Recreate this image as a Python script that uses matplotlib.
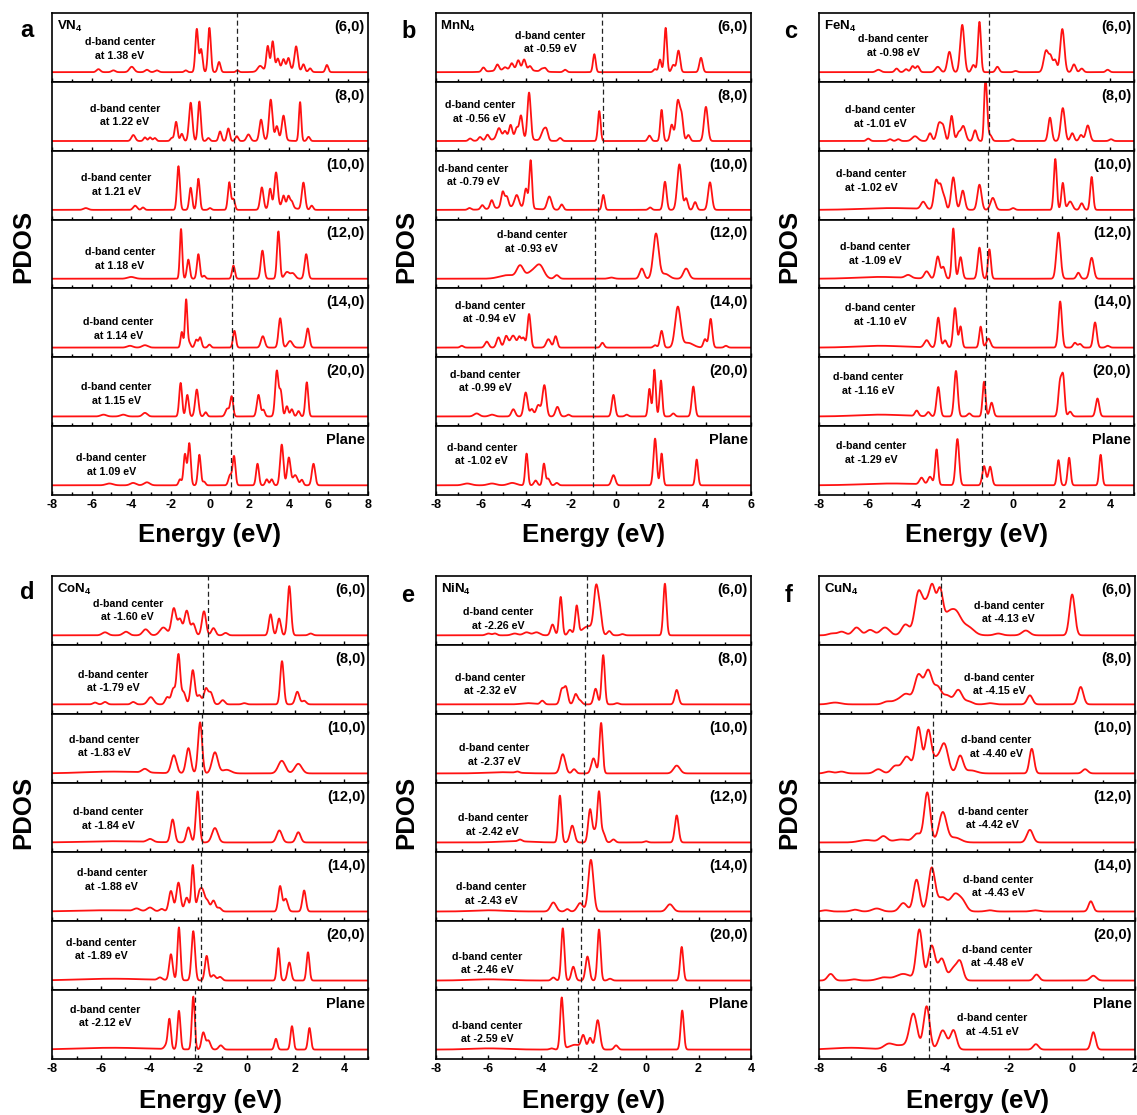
import numpy as np
import matplotlib
matplotlib.use("Agg")
import matplotlib.pyplot as plt
from matplotlib.ticker import MultipleLocator

plt.rcParams['font.family'] = ['Liberation Sans', 'DejaVu Sans']
plt.rcParams['font.weight'] = 'bold'
plt.rcParams['axes.unicode_minus'] = False
plt.rcParams['mathtext.fontset'] = 'custom'
plt.rcParams['mathtext.rm'] = 'Liberation Sans:bold'
plt.rcParams['mathtext.bf'] = 'Liberation Sans:bold'
plt.rcParams['mathtext.it'] = 'Liberation Sans:bold:italic'
plt.rcParams['mathtext.default'] = 'rm'

# ---- data -------------------------------------------------------------
rows = ['(6,0)', '(8,0)', '(10,0)', '(12,0)', '(14,0)', '(20,0)', 'Plane']
panel_letters = ['a', 'b', 'c', 'd', 'e', 'f']
systems = ['VN$_4$', 'MnN$_4$', 'FeN$_4$', 'CoN$_4$', 'NiN$_4$', 'CuN$_4$']
xlims = [(-8, 8), (-8, 6), (-8, 5), (-8, 5), (-8, 4), (-8, 2)]

# d-band centers (eV), one per row
dband_V = [1.38, 1.22, 1.21, 1.18, 1.14, 1.15, 1.09]
dband_Mn = [-0.59, -0.56, -0.79, -0.93, -0.94, -0.99, -1.02]
dband_Fe = [-0.98, -1.01, -1.02, -1.09, -1.10, -1.16, -1.29]
dband_Co = [-1.60, -1.79, -1.83, -1.84, -1.88, -1.89, -2.12]
dband_Ni = [-2.26, -2.32, -2.37, -2.42, -2.43, -2.46, -2.59]
dband_Cu = [-4.13, -4.15, -4.40, -4.42, -4.43, -4.48, -4.51]

# PDOS peaks: (energy eV, height, width eV)
peaks_V = [
    [(-5.66, .05, .08), (-4.9, .03, .08), (-3.97, .09, .1), (-3.2, .04, .08), (-2.7, .03, .08), (-1.23, .03),
     (-0.67, .72), (-0.45, .38), (-0.03, .74), (0.46, .17), (1.39, .03), (2.54, .09, .1), (2.93, .4),
     (3.18, .46), (3.44, .16), (3.73, .15), (3.98, .18), (4.37, .4, .07), (4.74, .12), (5.08, .06),
     (5.93, .12), (3.6, .07, .5)],
    [(-3.89, .1, .08), (-3.3, .06), (-3.04, .06), (-2.8, .05), (-1.94, .05), (-1.72, .32), (-1.43, .12),
     (-0.98, .64, .07), (-0.54, .66), (-0.08, .05), (0.51, .16), (0.93, .21), (1.36, .08), (1.95, .11, .08),
     (2.59, .35, .07), (3.08, .65, .07), (3.39, .2), (3.73, .4, .07), (4.57, .65, .05), (5.0, .07),
     (3.3, .05, .3)],
    [(-6.3, .03, .1), (-3.8, .07, .08), (-3.4, .04), (-1.6, .73), (-0.98, .37), (-0.59, .52), (0.0, .03),
     (0.98, .46), (1.19, .18), (2.63, .37, .07), (3.05, .33), (3.35, .58, .07), (3.73, .18), (3.98, .18),
     (4.15, .1), (4.74, .45, .07), (5.16, .07), (3.7, .06, .4)],
    [(-4.0, .03, .15), (-1.47, .83, .05), (-1.1, .32), (-0.59, .41), (-0.3, .05), (1.19, .22),
     (2.66, .47, .07), (3.47, .79, .06), (3.9, .11, .1), (4.2, .09, .1), (4.88, .41, .07)],
    [(-4.06, .03, .12), (-3.3, .04, .12), (-1.43, .26, .05), (-1.21, .8, .05), (-1.05, .08), (-0.7, .13),
     (-0.5, .17), (-0.03, .05), (1.24, .28), (2.68, .19, .08), (3.56, .49, .07), (4.06, .11, .1),
     (4.96, .32, .07)],
    [(-5.4, .03, .12), (-4.4, .03, .12), (-3.3, .06, .1), (-1.49, .56), (-1.15, .36), (-0.67, .45, .07),
     (-0.22, .07), (0.88, .13, .08), (1.1, .33), (2.46, .36, .07), (2.71, .11), (3.39, .76, .07),
     (3.59, .4), (3.9, .17), (4.15, .12), (4.49, .09), (4.91, .57, .06)],
    [(-5.1, .03, .15), (-3.9, .04, .12), (-3.2, .05, .12), (-1.52, .1), (-1.27, .52), (-1.05, .7),
     (-0.54, .51), (-0.3, .06), (1.02, .17, .07), (1.22, .48), (2.41, .36), (2.88, .1), (3.13, .1),
     (3.64, .68, .07), (4.0, .46, .07), (4.32, .17, .1), (4.66, .09), (5.25, .36, .07)],
]

peaks_Mn = [
    [(-4.5, .05, .6), (-5.88, .07), (-5.26, .1), (-4.92, .04), (-4.62, .1), (-4.33, .15), (-4.07, .17),
     (-3.81, .07), (-3.29, .04), (-3.14, .06), (-2.25, .04), (-0.95, .3, .05), (1.75, .05), (1.97, .21, .05),
     (2.22, .74, .05), (2.56, .12), (2.79, .36), (3.79, .24)],
    [(-6.47, .04), (-6.03, .06), (-5.7, .09), (-5.19, .18, .08), (-4.92, .12), (-4.67, .22), (-4.4, .17),
     (-4.21, .38), (-3.85, .78, .06), (-3.21, .17, .08), (-3.07, .14), (-2.47, .05), (-0.73, .5, .05),
     (1.5, .09), (2.04, .52, .05), (2.49, .27), (2.76, .66, .07), (2.93, .4), (3.23, .1),
     (4.01, .57, .07), (-4.6, .05, .6)],
    [(-6.5, .03), (-5.93, .07), (-5.51, .14), (-5.02, .26), (-4.84, .17), (-4.4, .2, .08), (-3.99, .32),
     (-3.78, .8, .05), (-2.95, .22, .08), (-2.4, .09), (-0.55, .25, .05), (1.53, .04), (2.19, .47, .06),
     (2.83, .76, .08), (3.13, .19), (3.53, .13), (4.19, .46, .07), (-4.6, .05, .6)],
    [(-4.8, .06, .3), (-4.25, .2, .12), (-3.7, .12, .2), (-3.36, .19, .15), (-2.62, .06, .08), (-0.2, .02, .1),
     (1.16, .17, .08), (1.79, .75, .1), (2.2, .08, .15), (3.13, .17, .1)],
    [(-6.84, .03), (-5.73, .1, .07), (-5.21, .17, .07), (-4.87, .19, .07), (-4.56, .2, .1), (-4.28, .17),
     (-4.1, .16), (-3.85, .56, .06), (-2.99, .14, .08), (-2.67, .19, .06), (-0.59, .08), (1.75, .04),
     (2.04, .28, .06), (2.76, .67, .1), (3.2, .08, .2), (3.97, .14), (4.22, .48, .06), (4.9, .03)],
    [(-6.18, .05, .1), (-5.5, .03, .1), (-4.55, .12, .07), (-4.0, .4, .07), (-3.73, .12), (-3.44, .19, .08),
     (-3.17, .52, .07), (-2.59, .16, .07), (-2.1, .03), (-0.1, .36, .06), (0.49, .03), (1.5, .46, .05),
     (1.72, .78, .05), (2.01, .6, .05), (2.56, .05), (3.45, .5, .06)],
    [(-6.6, .03, .15), (-5.5, .03, .15), (-4.6, .04, .15), (-3.96, .53, .05), (-3.56, .08), (-3.19, .36, .05),
     (-3.0, .11), (-2.62, .04), (-0.1, .17, .07), (1.75, .78, .06), (2.04, .53, .05), (3.6, .43, .05)],
]

peaks_Fe = [
    [(-5.56, .04, .08), (-4.81, .06), (-4.42, .05), (-4.15, .1), (-3.94, .1), (-3.11, .09, .08),
     (-2.63, .34, .07), (-2.1, .79, .07), (-1.64, .12), (-1.39, .84, .05), (-0.65, .09), (0.1, .02),
     (1.36, .36, .08), (1.55, .23), (1.73, .2), (2.03, .72, .07), (2.51, .13), (2.83, .06), (3.9, .04)],
    [(-5.98, .04), (-5.08, .03), (-4.74, .03), (-4.05, .08, .1), (-3.43, .13), (-3.05, .3, .08), (-2.88, .2),
     (-2.54, .42, .06), (-2.26, .12), (-2.06, .25, .08), (-1.57, .18), (-1.16, .8, .04), (-1.09, .5, .04),
     (-0.95, .1), (-0.02, .03), (1.52, .39, .06), (2.05, .55, .07), (2.44, .13), (2.8, .1),
     (3.08, .26, .07), (4.04, .03)],
    [(-5.0, .03, 1.0), (-3.71, .12, .08), (-3.18, .48, .07), (-3.0, .36, .06), (-2.85, .2), (-2.47, .54, .07),
     (-2.08, .32, .07), (-1.39, .42, .07), (-0.84, .2, .08), (0.0, .03), (1.74, .85, .05), (2.05, .45, .05),
     (2.35, .14, .08), (2.83, .11), (3.24, .55, .05)],
    [(-5.5, .03, .8), (-4.33, .05, .1), (-3.57, .12, .08), (-3.11, .37, .07), (-2.88, .19), (-2.47, .84, .05),
     (-2.17, .36, .06), (-1.39, .52, .06), (-0.98, .49, .05), (1.87, .77, .07), (2.69, .1),
     (3.24, .35, .07)],
    [(-5.5, .03, .8), (-3.57, .12, .08), (-3.09, .5, .06), (-2.81, .12), (-2.4, .66, .06), (-2.17, .35, .05),
     (-1.34, .35, .05), (-1.02, .15, .07), (1.94, .77, .06), (2.55, .08), (2.76, .06), (3.38, .42, .06),
     (3.9, .03)],
    [(-5.5, .03, .8), (-3.98, .09), (-3.5, .07), (-3.09, .49, .06), (-2.36, .76, .06), (-1.81, .05),
     (-1.2, .58, .05), (-0.89, .23, .06), (1.94, .58, .06), (2.07, .58, .05), (2.35, .08), (3.48, .3, .06)],
    [(-5.0, .03, 1.0), (-3.78, .11, .07), (-3.43, .13, .07), (-3.16, .59, .05), (-2.3, .77, .06),
     (-1.2, .32, .06), (-0.95, .31, .06), (1.87, .42, .05), (2.31, .46, .05), (3.61, .51, .05)],
]

peaks_Co = [
    [(-5.83, .05, .1), (-4.97, .06, .1), (-4.16, .1, .1), (-3.43, .13, .12), (-3.0, .45, .08), (-2.75, .26),
     (-2.47, .41, .08), (-2.2, .19), (-1.76, .4, .07), (-1.37, .12), (-0.87, .04), (0.98, .35, .06),
     (1.33, .28, .06), (1.75, .82, .06), (2.63, .03)],
    [(-6.24, .03), (-5.83, .04), (-4.67, .04), (-3.95, .12, .1), (-3.27, .12), (-3.02, .26), (-2.81, .82, .06),
     (-2.6, .2), (-2.22, .57, .07), (-1.95, .15), (-1.68, .26), (-1.48, .19), (-0.99, .07), (-0.1, .02),
     (1.45, .72, .06), (2.08, .21, .07), (2.36, .06)],
    [(-5.5, .03, 1.0), (-4.19, .06, .1), (-3.0, .3, .09), (-2.4, .42, .08), (-1.92, .85, .07),
     (-1.31, .35, .1), (-0.83, .06, .15), (1.44, .21, .12), (2.12, .16, .12)],
    [(-5.5, .02, 1.0), (-3.98, .05, .1), (-3.05, .38, .07), (-2.4, .25, .07), (-2.02, .85, .06),
     (-1.31, .24, .1), (1.34, .2, .09), (2.12, .17, .08)],
    [(-5.8, .02, 1.0), (-4.53, .04, .1), (-3.98, .06, .1), (-3.5, .04), (-3.12, .34, .07), (-2.81, .48, .07),
     (-2.47, .23), (-2.22, .77, .05), (-1.96, .28), (-1.81, .3), (-1.62, .17), (-1.37, .18), (-1.13, .06),
     (1.37, .42, .06), (1.6, .21), (2.36, .35, .06)],
    [(-5.5, .03, 1.2), (-3.57, .04), (-3.12, .43, .06), (-2.79, .88, .05), (-2.2, .82, .06), (-1.65, .41, .06),
     (-1.37, .09), (-1.1, .06), (1.3, .54, .05), (1.75, .3, .06), (2.52, .47, .05)],
    [(-5.5, .03, 1.2), (-3.3, .07), (-3.18, .48, .05), (-2.79, .64, .05), (-2.2, .88, .05), (-1.79, .28, .06),
     (-1.58, .15), (-1.07, .07), (1.2, .18, .05), (1.86, .39, .05), (2.58, .36, .05)],
]

peaks_Ni = [
    [(-6.0, .03, .08), (-5.75, .03), (-5.0, .03, .1), (-4.55, .05, .1), (-4.17, .05, .1), (-3.56, .18),
     (-3.25, .64, .05), (-2.9, .09), (-2.64, .47, .05), (-2.2, .15, .2), (-1.9, .74, .07), (-1.75, .33),
     (-1.4, .07), (-0.9, .02), (0.72, .86, .05)],
    [(-4.5, .02, .2), (-3.95, .06), (-3.21, .24), (-3.05, .28), (-2.68, .17), (-2.51, .06), (-1.92, .26),
     (-1.63, .82, .05), (-1.1, .02), (1.17, .24, .06)],
    [(-5.5, .02, .5), (-4.9, .02), (-3.17, .32, .08), (-2.74, .07), (-2.0, .25, .07), (-1.71, .84, .05),
     (1.17, .13, .1)],
    [(-5.0, .02, .5), (-4.8, .03), (-3.28, .78, .05), (-2.81, .28, .07), (-2.13, .55, .06), (-1.94, .18),
     (-1.79, .82, .05), (-1.63, .16), (-1.24, .05), (0.0, .02), (1.17, .45, .06)],
    [(-6.0, .02, .5), (-3.53, .15, .09), (-3.0, .04), (-2.51, .14, .09), (-2.1, .86, .08), (0.91, .12, .1)],
    [(-6.0, .02, .6), (-3.53, .05), (-3.17, .87, .05), (-2.77, .23, .06), (-2.23, .4, .06), (-1.79, .85, .05),
     (-1.37, .03), (1.36, .56, .05)],
    [(-6.0, .02, .6), (-3.6, .02), (-3.21, .86, .05), (-2.7, .08, .2), (-2.39, .21, .06), (-2.13, .19, .06),
     (-1.84, .49, .07), (-1.14, .07), (1.38, .65, .05)],
]

peaks_Cu = [
    [(-7.6, .03), (-7.29, .06), (-6.82, .13), (-6.39, .09), (-5.92, .13, .12), (-5.27, .18), (-4.86, .7),
     (-4.6, .46), (-4.41, .68, .08), (-4.18, .72, .08), (-3.95, .2), (-3.7, .4, .15), (-3.28, .13, .15),
     (-2.33, .03), (-1.46, .08), (0.01, .68, .07)],
    [(-7.5, .03, .15), (-5.87, .04), (-5.5, .07, .15), (-5.23, .15, .12), (-4.86, .48), (-4.55, .55),
     (-4.25, .28), (-3.95, .14), (-3.6, .24), (-3.28, .05), (-2.6, .02), (-1.33, .15, .07), (0.28, .29, .07)],
    [(-7.7, .03), (-7.3, .03), (-6.13, .07), (-5.6, .12), (-5.23, .28, .12), (-4.86, .76, .08),
     (-4.55, .7, .08), (-4.3, .22), (-4.04, .48), (-3.54, .29, .08), (-3.2, .05, .15), (-1.27, .41, .06),
     (0.42, .07, .07)],
    [(-6.5, .04, .2), (-5.97, .1), (-5.4, .05, .2), (-4.9, .14), (-4.58, .83, .08), (-4.09, .5),
     (-3.7, .08, .15), (-1.33, .21, .08)],
    [(-7.8, .02), (-6.87, .03), (-6.18, .05, .12), (-5.34, .14), (-4.92, .53, .08), (-4.44, .72, .09),
     (-4.1, .23, .12), (-3.7, .28, .12), (-3.45, .14), (-2.6, .02), (-1.17, .02), (0.6, .17, .06)],
    [(-7.64, .11, .08), (-6.9, .02), (-5.97, .05, .15), (-5.34, .11, .2), (-4.83, .84, .08), (-4.44, .58, .09),
     (-4.12, .36, .09), (-3.75, .2), (-3.54, .29, .08), (-1.12, .1, .07), (0.68, .08, .08)],
    [(-7.0, .03, .5), (-5.81, .08, .12), (-5.4, .07, .2), (-5.02, .58), (-4.6, .72, .08), (-4.09, .32),
     (-3.75, .32, .08), (-1.14, .09, .07), (0.68, .29, .06)],
]

all_peaks = [peaks_V, peaks_Mn, peaks_Fe, peaks_Co, peaks_Ni, peaks_Cu]
all_dband = [dband_V, dband_Mn, dband_Fe, dband_Co, dband_Ni, dband_Cu]
default_width = [0.06, 0.06, 0.06, 0.07, 0.06, 0.1]
width_scale = 1.2   # smearing of the plotted curves

# ---- layout (pixels in a 1137x1115 canvas) ------------------------------
W, H = 1137, 1115
panel_box = [  # left, right, top, bottom
    (52.3, 367.7, 13, 495), (435.7, 750.7, 13, 495), (819.3, 1134.3, 13, 495),
    (52.3, 368.3, 576, 1059.3), (436, 751, 576, 1059.3), (819.3, 1135, 576, 1059.3),
]
letter_pos = [(27, 37.3), (409, 38.3), (791, 37.7), (27.5, 599), (408, 601.7), (789, 601.7)]
pdos_pos = [(23, 246), (406, 246), (789.5, 246), (23, 812), (406, 812), (789.5, 812)]
energy_y = [541.7, 541.7, 541.7, 1108, 1108, 1108]
# d-band label centres in axes fraction
note_pos = [
    [(.215, .48), (.23, .51), (.204, .5), (.215, .43), (.21, .41), (.204, .47), (.188, .44)],
    [(.365, .57), (.14, .56), (.12, .64), (.305, .67), (.172, .65), (.157, .65), (.146, .59)],
    [(.235, .52), (.193, .49), (.164, .56), (.177, .5), (.193, .61), (.156, .61), (.166, .61)],
    [(.239, .5), (.193, .47), (.164, .53), (.177, .48), (.188, .6), (.154, .59), (.167, .62)],
    [(.198, .38), (.171, .43), (.184, .41), (.18, .39), (.175, .39), (.164, .39), (.164, .39)],
    [(.6, .47), (.57, .43), (.56, .52), (.55, .49), (.566, .5), (.563, .49), (.547, .5)],
]


def pdos(x, peaks, s0):
    y = np.full_like(x, 0.012)
    for p in peaks:
        s = (p[2] if len(p) > 2 else s0) * width_scale
        y += p[1] * np.exp(-0.5 * ((x - p[0]) / s) ** 2)
    return y


fig = plt.figure(figsize=(W / 100, H / 100), dpi=100)

for i in range(6):
    left, right, top, bottom = panel_box[i]
    rh = (bottom - top) / 7
    x = np.linspace(xlims[i][0], xlims[i][1], 2000)
    for r in range(7):
        ax = fig.add_axes([left / W, 1 - (top + (r + 1) * rh) / H, (right - left) / W, rh / H])
        ax.plot(x, pdos(x, all_peaks[i][r], default_width[i]), color='#ff1212', lw=1.3)
        ax.axvline(all_dband[i][r], color='#222222', lw=0.9, ls=(0, (4, 2.5)))
        ax.set_xlim(*xlims[i])
        ax.set_ylim(-0.15, 1.0)
        ax.set_yticks([])
        ax.xaxis.set_major_locator(MultipleLocator(2))
        ax.xaxis.set_minor_locator(MultipleLocator(1))
        ax.tick_params(axis='x', which='both', direction='in', top=False, bottom=True,
                       labelbottom=(r == 6), labelsize=9, width=1, pad=3)
        ax.tick_params(axis='x', which='major', length=3)
        ax.tick_params(axis='x', which='minor', length=2)
        for sp in ax.spines.values():
            sp.set_linewidth(1.2)
        ax.text(0.99, 0.9, rows[r], transform=ax.transAxes, ha='right', va='top',
                fontsize=10.5, fontweight='bold')
        nx, ny = note_pos[i][r]
        ax.text(nx, ny, 'd-band center\nat %.2f eV' % all_dband[i][r], transform=ax.transAxes,
                ha='center', va='center', fontsize=7.7, fontweight='bold', linespacing=1.45)
        if r == 0:
            ax.text(0.015, 0.92, systems[i], transform=ax.transAxes, ha='left', va='top',
                    fontsize=9.5, fontweight='bold')

    fig.text(letter_pos[i][0] / W, 1 - letter_pos[i][1] / H, panel_letters[i],
             ha='center', va='baseline', fontsize=17, fontweight='bold')
    fig.text(pdos_pos[i][0] / W, 1 - pdos_pos[i][1] / H, 'PDOS', rotation=90,
             ha='center', va='center', fontsize=18.5, fontweight='bold')
    fig.text((left + right) / 2 / W, 1 - energy_y[i] / H, 'Energy (eV)',
             ha='center', va='baseline', fontsize=18.5, fontweight='bold')

fig.savefig('out.png', dpi=100)
